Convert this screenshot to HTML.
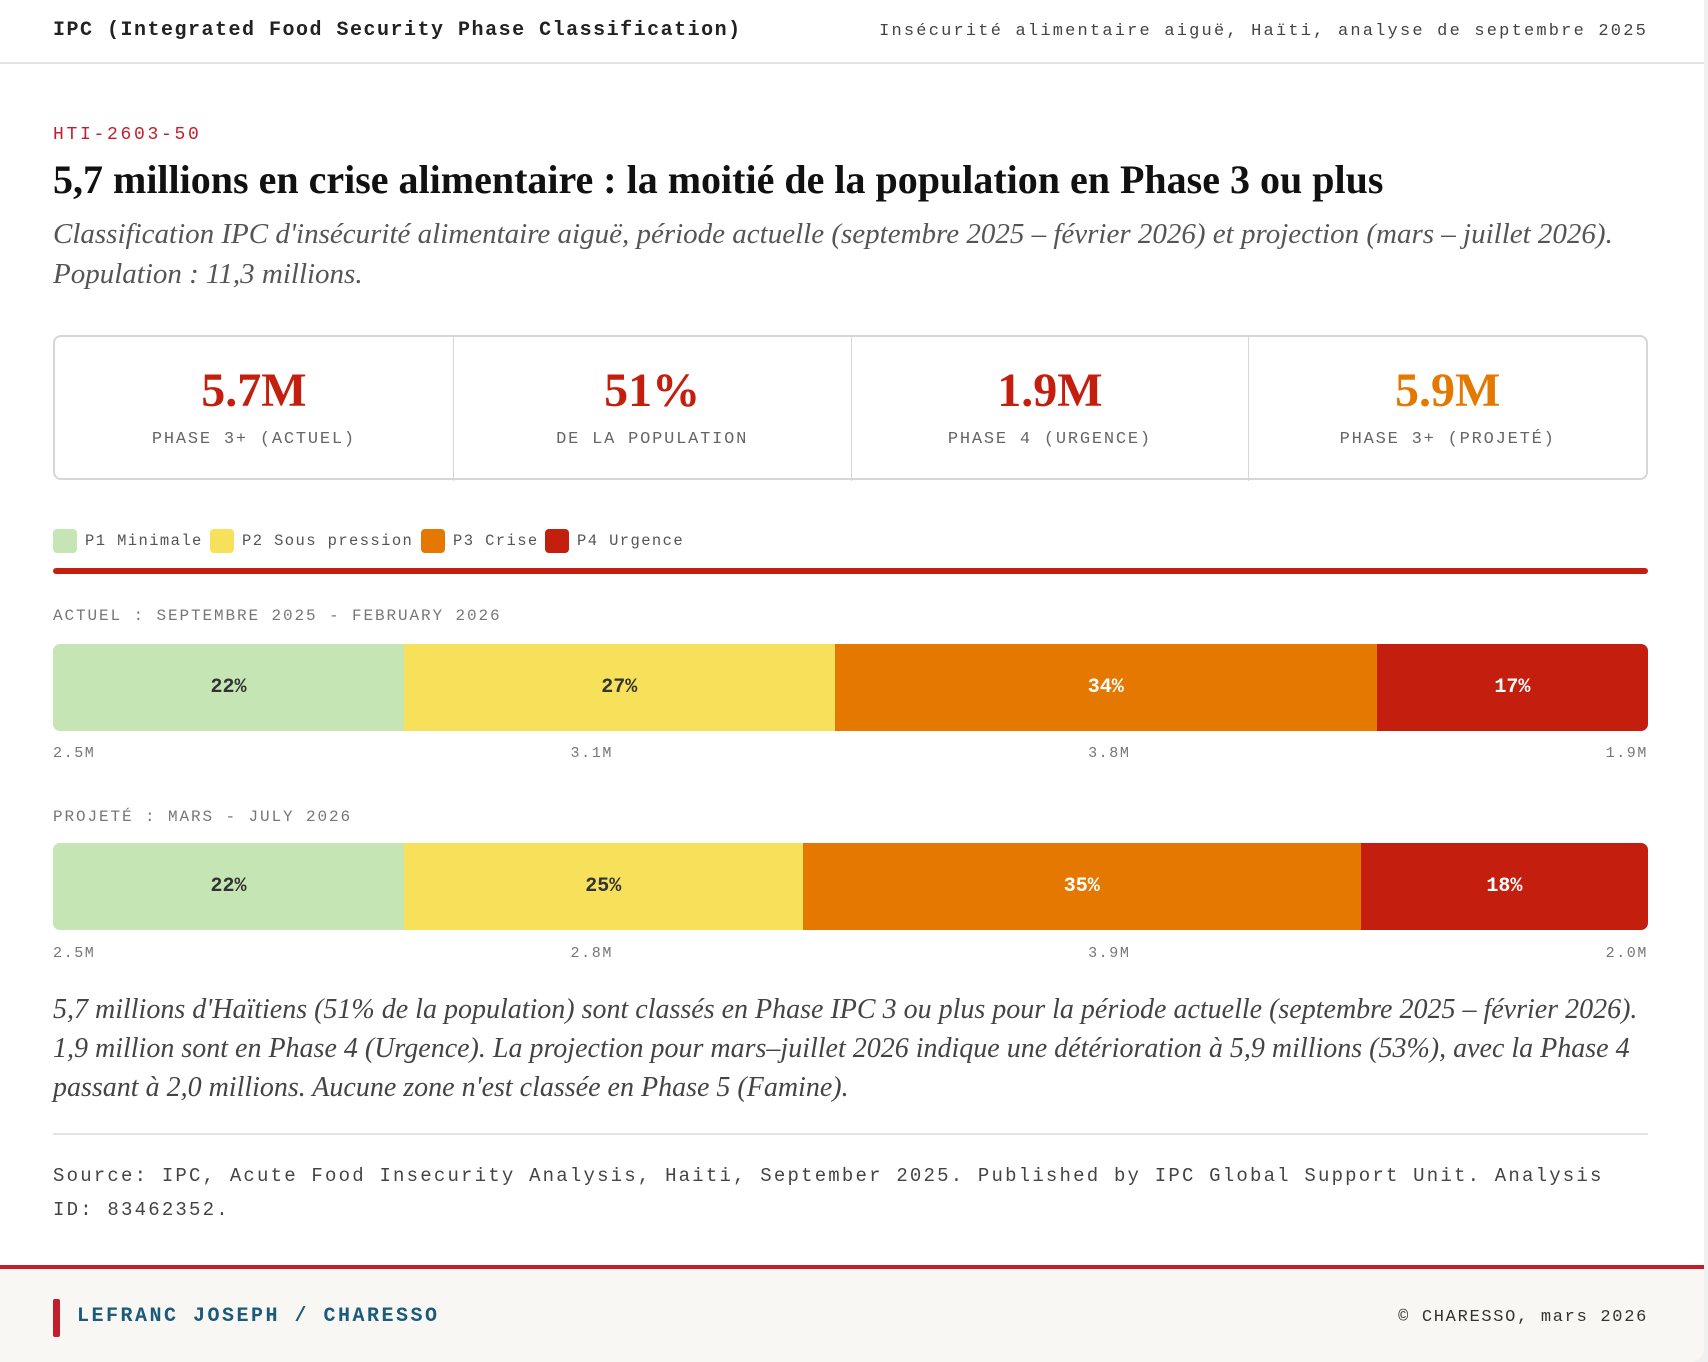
<!DOCTYPE html>
<html><head><meta charset="utf-8">
<style>
*{box-sizing:border-box;margin:0;padding:0}
body{width:1708px;height:1362px;background:#f0f0f0;position:relative;overflow:hidden;font-family:"Liberation Mono",monospace;color:#222}
#card{position:absolute;left:0;top:0;width:1704px;height:1362px;background:#fff;border-bottom-right-radius:14px;overflow:hidden}
.abs{position:absolute;white-space:nowrap}
.mono{font-family:"Liberation Mono",monospace}
.serif{font-family:"Liberation Serif",serif}
#hdr{position:absolute;left:0;top:0;width:1704px;height:64px;border-bottom:2px solid #e2e2e2}
.stat{position:absolute;top:0;height:144px;width:25%;text-align:center;border-left:1px solid #d6d6d6}
.stat:first-child{border-left:none}
.sv{position:absolute;top:26px;left:0;right:0;font-family:"Liberation Serif",serif;font-weight:bold;font-size:48px;color:#c41e0e}
.sl{position:absolute;top:93px;left:0;right:0;font-size:17px;letter-spacing:1.8px;color:#666}
.leg{position:absolute;top:529px;font-size:15.5px;letter-spacing:1.4px;color:#555;display:flex;align-items:center}
.sw{width:24px;height:24px;border-radius:4px;margin-right:8px;display:inline-block}
.bar{position:absolute;left:53px;width:1595px;height:87px;border-radius:7px;overflow:hidden}
.seg{position:absolute;top:0;height:100%;display:flex;align-items:center;justify-content:center;font-weight:bold;font-size:20px}
.ticks{position:absolute;left:53px;width:1595px;display:flex;justify-content:space-between;font-size:15px;letter-spacing:1.6px;color:#777}
.sec{position:absolute;left:53px;font-size:16px;letter-spacing:1.9px;color:#777}
</style></head><body>
<div id="card">
<div id="hdr">
 <div class="abs mono" style="left:53px;top:19px;font-size:20px;letter-spacing:1.5px;font-weight:bold;color:#222">IPC (Integrated Food Security Phase Classification)</div>
 <div class="abs mono" style="right:56px;top:22px;font-size:17px;letter-spacing:2.2px;color:#444">Insécurité alimentaire aiguë, Haïti, analyse de septembre 2025</div>
</div>
<div class="abs mono" style="left:53px;top:125px;font-size:18px;letter-spacing:2.7px;color:#c41e2e">HTI-2603-50</div>
<div class="abs serif" style="left:53px;top:156px;font-size:40px;font-weight:bold;color:#111">5,7 millions en crise alimentaire : la moitié de la population en Phase 3 ou plus</div>
<div class="abs serif" style="left:53px;top:214px;font-size:29px;font-style:italic;color:#555;line-height:40px">Classification IPC d'insécurité alimentaire aiguë, période actuelle (septembre 2025 – février 2026) et projection (mars – juillet 2026).<br>Population : 11,3 millions.</div>

<div class="abs" style="left:53px;top:335px;width:1595px;height:145px;border:2px solid #d6d6d6;border-radius:8px">
 <div class="stat" style="left:0"><div class="sv">5.7M</div><div class="sl">PHASE 3+ (ACTUEL)</div></div>
 <div class="stat" style="left:25%"><div class="sv">51%</div><div class="sl">DE LA POPULATION</div></div>
 <div class="stat" style="left:50%"><div class="sv">1.9M</div><div class="sl">PHASE 4 (URGENCE)</div></div>
 <div class="stat" style="left:75%"><div class="sv" style="color:#e57800">5.9M</div><div class="sl">PHASE 3+ (PROJETÉ)</div></div>
</div>

<div id="legend"></div>
<div class="abs" style="left:53px;top:568px;width:1595px;height:6px;background:#c41e0e;border-radius:3px"></div>

<div class="sec" style="top:607px">ACTUEL : SEPTEMBRE 2025 - FEBRUARY 2026</div>
<div class="bar" id="bar0" style="top:644px"></div>
<div class="ticks" id="ticks0" style="top:745px"></div>
<div class="sec" style="top:808px">PROJETÉ : MARS - JULY 2026</div>
<div class="bar" id="bar1" style="top:843px"></div>
<div class="ticks" id="ticks1" style="top:945px"></div>

<div class="abs serif" style="left:53px;top:990px;font-size:28px;font-style:italic;color:#444;line-height:39px">5,7 millions d'Haïtiens (51% de la population) sont classés en Phase IPC 3 ou plus pour la période actuelle (septembre 2025 – février 2026).<br>1,9 million sont en Phase 4 (Urgence). La projection pour mars–juillet 2026 indique une détérioration à 5,9 millions (53%), avec la Phase 4<br>passant à 2,0 millions. Aucune zone n'est classée en Phase 5 (Famine).</div>
<div class="abs" style="left:53px;top:1133px;width:1595px;height:2px;background:#e2e2e2"></div>
<div class="abs mono" style="left:53px;top:1159px;font-size:19px;letter-spacing:2.2px;color:#444;line-height:34px">Source: IPC, Acute Food Insecurity Analysis, Haiti, September 2025. Published by IPC Global Support Unit. Analysis<br>ID: 83462352.</div>

<div class="abs" style="left:0;top:1265px;width:1704px;height:97px;background:#f8f7f4;border-top:4px solid #c41e2e">
 <div class="abs" style="left:53px;top:30px;width:7px;height:38px;background:#c41e2e;border-radius:2px"></div>
 <div class="abs mono" style="left:77px;top:36px;font-size:20px;font-weight:bold;letter-spacing:2.5px;color:#1a5a7a">LEFRANC JOSEPH / CHARESSO</div>
 <div class="abs mono" style="right:56px;top:39px;font-size:17px;letter-spacing:1.7px;color:#333">© CHARESSO, mars 2026</div>
</div>
</div>
<script>
const phases = ["P1 Minimale","P2 Sous pression","P3 Crise","P4 Urgence"];
const colors = ["#c5e5b4","#f7e05a","#e57800","#c41e0e"];
const textColors = ["#333","#333","#fff","#fff"];
const currentPct = [22,27,34,17];
const projectedPct = [22,25,35,18];
const currentPop = ["2.5M","3.1M","3.8M","1.9M"];
const projectedPop = ["2.5M","2.8M","3.9M","2.0M"];

const leg = document.getElementById('legend');
let lx = 53;
phases.forEach((p,i)=>{
  const d = document.createElement('div');
  d.className='leg';
  
  
  d.style.left = lx+'px';
  d.innerHTML = '<span class="sw" style="background:'+colors[i]+'"></span>'+p;
  leg.appendChild(d);
  lx += [157,211,124,140][i];
});

function drawBar(id, pct, ticksId, pops){
  const bar = document.getElementById(id);
  const W = 1595;
  const total = pct.reduce((a,b)=>a+b,0);
  const x = v => v/total*W;
  let acc = 0;
  pct.forEach((v,i)=>{
    const s = document.createElement('div');
    s.className='seg';
    
    
    s.style.left = x(acc)+'px';
    s.style.width = x(v)+'px';
    s.style.background = colors[i];
    s.style.color = textColors[i];
    s.textContent = v+'%';
    bar.appendChild(s);
    acc += v;
  });
  const t = document.getElementById(ticksId);
  pops.forEach(p=>{
    const e = document.createElement('span');
    
    
    e.textContent = p;
    t.appendChild(e);
  });
}
drawBar('bar0', currentPct, 'ticks0', currentPop);
drawBar('bar1', projectedPct, 'ticks1', projectedPop);
</script>
</body></html>
